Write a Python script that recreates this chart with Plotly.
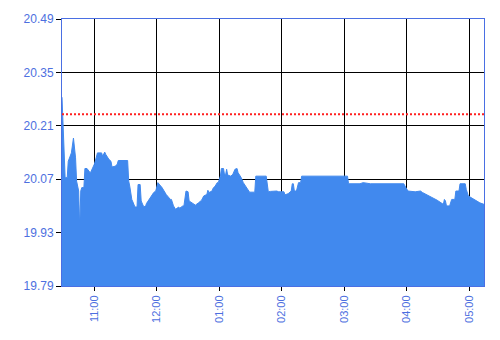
import plotly.graph_objects as go

times = ["22:29","22:32","22:34","22:35","22:38","22:40","22:42","22:43","22:45","22:46",
         "22:47","22:48","22:50","22:51","22:53","22:56","22:57","23:00","23:02","23:03",
         "23:07","23:08","23:10","23:11","23:14","23:16","23:17","23:20","23:22","23:23",
         "23:32","23:33","23:34","23:36","23:38","23:39","23:41","23:42","23:44","23:45",
         "23:47","23:49","23:50","23:53","23:57","23:59","00:01","00:05","00:09","00:13",
         "00:14","00:16","00:18","00:21","00:22","00:25","00:26","00:28","00:30","00:31",
         "00:34","00:37","00:40","00:43","00:45","00:48","00:49","00:50","00:53","00:54",
         "00:56","00:58","00:59","01:00","01:01","01:02","01:04","01:05","01:06","01:07",
         "01:08","01:11","01:13","01:15","01:17","01:18","01:21","01:23","01:26","01:28",
         "01:29","01:34","01:35","01:45","01:47","01:49","01:55","01:57","02:02","02:03",
         "02:06","02:09","02:10","02:11","02:12","02:14","02:16","02:18","02:19","03:03",
         "03:04","03:15","03:18","03:25","03:57","03:59","04:01","04:08","04:13","04:15",
         "04:22","04:29","04:35","04:36","04:37","04:38","04:41","04:43","04:46","04:47",
         "04:50","04:51","04:56","04:57","04:59","05:04","05:10","05:14"]
prices = [20.285,20.074,20.074,20.117,20.139,20.178,20.126,20.065,20.039,19.940,
          20.039,20.048,20.048,20.098,20.098,20.087,20.091,20.109,20.128,20.139,
          20.139,20.130,20.141,20.135,20.122,20.117,20.102,20.104,20.109,20.119,
          20.119,20.065,20.052,20.017,20.004,19.997,19.997,20.056,20.056,20.013,
          20.000,19.997,20.006,20.020,20.035,20.039,20.061,20.048,20.030,20.017,
          20.017,20.000,19.991,19.997,19.994,20.000,20.000,20.039,20.037,20.013,
          20.008,20.002,20.008,20.015,20.026,20.030,20.041,20.035,20.039,20.046,
          20.052,20.061,20.061,20.069,20.078,20.098,20.098,20.081,20.081,20.096,
          20.081,20.078,20.083,20.096,20.098,20.087,20.074,20.061,20.048,20.039,
          20.036,20.036,20.078,20.078,20.037,20.038,20.039,20.037,20.037,20.029,
          20.032,20.039,20.058,20.058,20.039,20.039,20.061,20.061,20.078,20.078,
          20.058,20.058,20.061,20.058,20.058,20.048,20.039,20.037,20.039,20.035,
          20.026,20.015,20.004,20.017,20.013,20.000,20.000,20.017,20.017,20.039,
          20.039,20.058,20.058,20.043,20.026,20.017,20.008,20.004]
ref_level = 20.24
y_ticks = [19.79, 19.93, 20.07, 20.21, 20.35, 20.49]
x_start = "2024-01-01 22:29"
x_end = "2024-01-02 05:14"


def to_dt(t):
    h = int(t.split(":")[0])
    day = "2024-01-01" if h >= 12 else "2024-01-02"
    return f"{day} {t}"


xs = [to_dt(t) for t in times]

blue = "#4189ee"
axis_blue = "#4a6fe3"
label_blue = "#4d6fe0"

fig = go.Figure()
fig.add_trace(go.Scatter(x=xs, y=prices, mode="lines", fill="tozeroy",
                         line=dict(color=blue, width=1, shape="linear"),
                         fillcolor=blue, hoverinfo="skip"))
fig.add_trace(go.Scatter(x=[x_start, x_end], y=[ref_level, ref_level], mode="lines",
                         line=dict(color="#ff2020", width=2, dash="2px,2px"),
                         hoverinfo="skip"))

fig.update_layout(
    width=500, height=340,
    margin=dict(l=62, r=16, t=17, b=54),
    paper_bgcolor="white", plot_bgcolor="white",
    showlegend=False,
    font=dict(family="Liberation Sans, Arial, sans-serif", size=11, color=label_blue),
)
fig.update_xaxes(
    range=[x_start, x_end], type="date",
    dtick=3600000, tick0="2024-01-01 23:00", tickformat="%I:%M",
    tickangle=-90, ticks="outside", ticklen=4, tickcolor="black",
    showgrid=True, gridcolor="black", gridwidth=1,
    showline=True, linecolor=axis_blue, linewidth=1, mirror=True,
    zeroline=False, tickfont=dict(color=label_blue, size=11),
)
fig.update_yaxes(
    range=[y_ticks[0], y_ticks[-1]], tickvals=y_ticks, tickformat=".2f",
    ticks="outside", ticklen=5, tickcolor="black",
    showgrid=True, gridcolor="black", gridwidth=1,
    showline=True, linecolor=axis_blue, linewidth=1, mirror=True,
    zeroline=False, tickfont=dict(color=label_blue, size=12),
)

fig.write_html("out.html")
